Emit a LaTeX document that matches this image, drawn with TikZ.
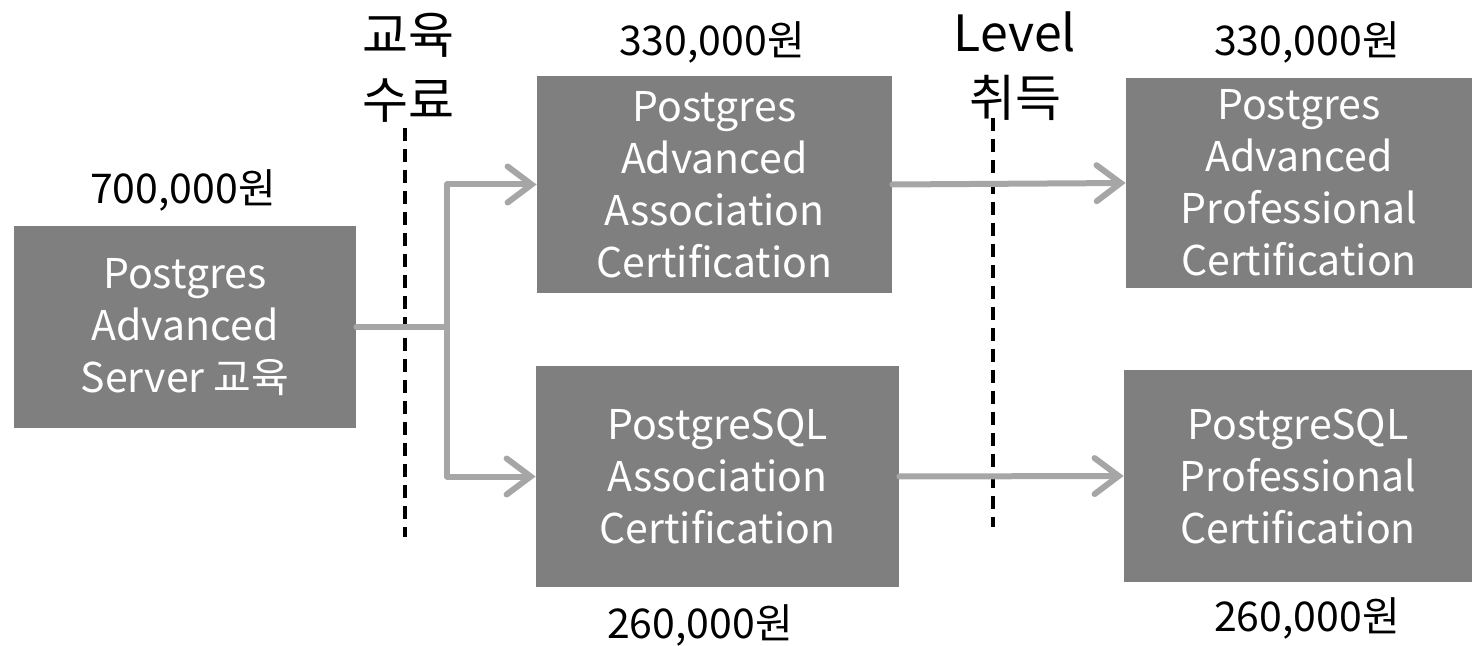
\documentclass[tikz,border=0pt]{standalone}
\usepackage{fontspec}
\setmainfont{Noto Sans CJK KR}
\usetikzlibrary{arrows.meta}
\definecolor{boxgray}{HTML}{7F7F7F}
\definecolor{conngray}{HTML}{A6A6A6}
\begin{document}
\begin{tikzpicture}[x=0.5pt,y=-0.5pt,
  box/.style={fill=boxgray, text=white, draw=none, inner sep=0pt, align=center,
    font=\fontsize{20.5}{26}\selectfont},
  conn/.style={draw=conngray, line width=3pt, line cap=round, line join=round},
  arr/.style={conn, -{Straight Barb[length=12pt,width=18pt,line cap=round]}},
  divider/.style={draw=black, line width=1.6pt, dash pattern=on 6.5pt off 4pt},
  price/.style={inner sep=0pt, font=\fontsize{20.5}{24}\selectfont},
  phase/.style={inner sep=0pt, align=center, font=\fontsize{25}{32.5}\selectfont}]
\useasboundingbox (0,0) rectangle (1472,646);
% boxes
\node[box, minimum width=171pt, minimum height=101pt] (A) at (185,327) {Postgres\\Advanced\\Server 교육};
\node[box, minimum width=177.5pt, minimum height=108.5pt] (B) at (714.5,184.5) {Postgres\\Advanced\\Association\\Certification};
\node[box, minimum width=181.5pt, minimum height=110.5pt] (C) at (717.5,476.5) {PostgreSQL\\Association\\Certification};
\node[box, minimum width=173pt, minimum height=105pt] (D) at (1299,183) {Postgres\\Advanced\\Professional\\Certification};
\node[box, minimum width=174pt, minimum height=106pt] (E) at (1298,476) {PostgreSQL\\Professional\\Certification};
% dividers
\coordinate (d1t) at (405,128);
\coordinate (d1b) at (405,537);
\coordinate (d2t) at (993,118);
\coordinate (d2b) at (993,527);
\draw[divider] (d1t) -- (d1b);
\draw[divider] (d2t) -- (d2b);
% connectors
\coordinate (j) at (447,327);
\draw[conn] (A.east) -- (j);
\draw[arr] (j) |- (B.west);
\draw[arr] (j) |- (C.west);
\draw[arr] (B.east) -- (D.west);
\draw[arr] (C.east) -- (E.west);
% labels
\node[phase] (p1) at (408,68) {교육\\수료};
\node[phase] (p2) at (1015,66) {Level\\취득};
\node[price] (q1) at (712,42) {330,000원};
\node[price] (q2) at (1307,42) {330,000원};
\node[price] (q3) at (183,190) {700,000원};
\node[price] (q4) at (700,625) {260,000원};
\node[price] (q5) at (1307,618) {260,000원};
\end{tikzpicture}
\end{document}
